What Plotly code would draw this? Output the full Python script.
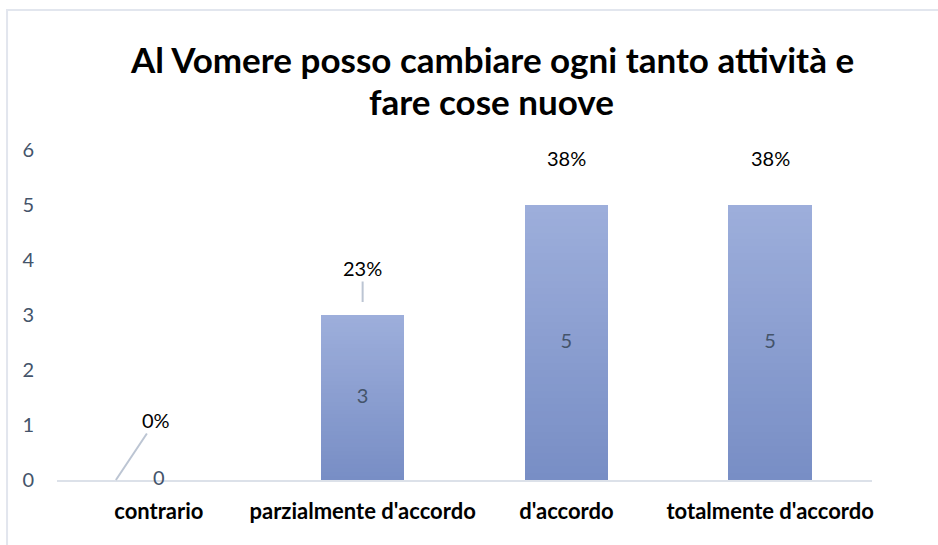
import plotly.graph_objects as go

categories = ["contrario", "parzialmente d'accordo", "d'accordo", "totalmente d'accordo"]
values = [0, 3, 5, 5]
y_ticks = [0, 1, 2, 3, 4, 5, 6]
title_lines = ["Al Vomere posso cambiare ogni tanto attività e", "fare cose nuove"]

total = sum(values)
percents = [f"{round(v / total * 100)}%" for v in values]

FONT = "Lato"
top_rgb = (157, 174, 219)
bot_rgb = (120, 142, 197)
N = 40

fig = go.Figure()
for k in range(N):
    t = k / (N - 1)
    c = tuple(round(top_rgb[i] + (bot_rgb[i] - top_rgb[i]) * t) for i in range(3))
    frac = 1 - k / N
    fig.add_trace(go.Bar(
        x=categories, y=[v * frac for v in values], width=0.41,
        marker=dict(color=f"rgb{c}", line=dict(width=0)),
        hoverinfo="skip", showlegend=False,
    ))

# value labels in the middle of each bar
fig.add_trace(go.Scatter(
    x=categories, y=[v / 2 for v in values], mode="text",
    text=[str(v) for v in values],
    textfont=dict(family=FONT, size=20, color="#44546A"),
    textposition="middle center", showlegend=False, hoverinfo="skip",
    cliponaxis=False,
))

# percentage labels with leader lines
for cat, v, p in zip(categories, values, percents):
    if v == 0:
        fig.add_annotation(x=cat, y=v, text=p, xshift=-43, ax=40, ay=-60,
                           showarrow=True, arrowhead=0, arrowwidth=2, arrowcolor="#BCC5D3",
                           font=dict(family=FONT, size=20, color="#000000"))
    elif v < 4:
        fig.add_annotation(x=cat, y=v, text=p, ax=0, ay=-47, standoff=13,
                           showarrow=True, arrowhead=0, arrowwidth=2, arrowcolor="#BCC5D3",
                           font=dict(family=FONT, size=20, color="#000000"))
    else:
        fig.add_annotation(x=cat, y=v, text=p, yshift=47, showarrow=False,
                           font=dict(family=FONT, size=20, color="#000000"))

# title, two lines
for txt, ypos in zip(title_lines, [1.2757, 1.1485]):
    fig.add_annotation(xref="paper", yref="paper", x=0.5337, y=ypos, text=txt,
                       showarrow=False, xanchor="center", yanchor="middle",
                       font=dict(family=FONT, size=35, color="#000000", weight="bold"))

# chart border (top and left visible)
fig.add_shape(type="rect", xref="paper", yref="paper", x0=-0.0613, x1=1.2, y0=-0.5, y1=1.4242,
              line=dict(color="#E2E6EE", width=2), layer="below")

fig.update_layout(
    width=938, height=545,
    margin=dict(l=57, r=66, t=150, b=65),
    paper_bgcolor="white", plot_bgcolor="white",
    barmode="overlay", bargap=0,
    xaxis=dict(showline=True, linecolor="#DCE1E9", linewidth=2, showgrid=False,
               tickfont=dict(family=FONT, size=22, color="#000000", weight="bold"),
               ticks="", ticklabelstandoff=11, fixedrange=True, layer="below traces"),
    yaxis=dict(range=[0, 6], tickvals=y_ticks, showgrid=False, zeroline=False, showline=False,
               tickfont=dict(family=FONT, size=20, color="#44546A"),
               ticklabelstandoff=22, fixedrange=True),
    font=dict(family=FONT),
)

fig.write_html("out.html", post_script="document.body.style.margin='0';",
               config={"displayModeBar": False})
